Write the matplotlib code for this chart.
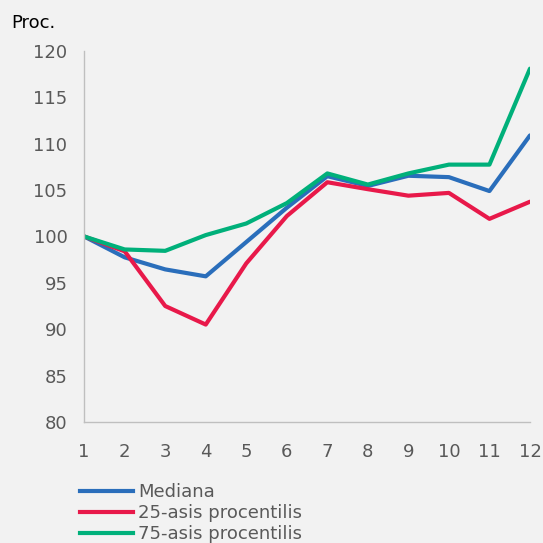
import matplotlib
matplotlib.use("Agg")
import matplotlib.pyplot as plt
from matplotlib.lines import Line2D

x = [1, 2, 3, 4, 5, 6, 7, 8, 9, 10, 11, 12]
mediana = [100.0, 97.75, 96.45, 95.7, 99.4, 103.1, 106.5, 105.45, 106.55, 106.4, 104.9, 110.9]
p25 = [100.0, 98.4, 92.5, 90.5, 97.1, 102.2, 105.85, 105.1, 104.4, 104.7, 101.9, 103.75]
p75 = [100.0, 98.6, 98.45, 100.15, 101.4, 103.6, 106.8, 105.6, 106.8, 107.75, 107.75, 118.1]
labels = ["Mediana", "25-asis procentilis", "75-asis procentilis"]
colors = ["#2a6ebb", "#e8194a", "#00b07a"]
yticks = [80, 85, 90, 95, 100, 105, 110, 115, 120]

bg = "#f2f2f2"
txt = "#595959"
plt.rcParams["font.family"] = ["DejaVu Sans"]
fs = 13

fig = plt.figure(figsize=(5.43, 5.43), dpi=100, facecolor=bg)
ax = fig.add_axes([0.155, 0.223, 0.821, 0.683], facecolor=bg)

for series, c in zip([mediana, p25, p75], colors):
    ax.plot(x, series, color=c, lw=3.0, solid_capstyle="round", solid_joinstyle="round")

ax.set_xlim(1, 12)
ax.set_ylim(80, 120)
ax.set_xticks(x)
ax.set_yticks(yticks)
ax.tick_params(length=0, labelsize=fs, colors=txt)
ax.tick_params(axis="y", pad=12)
ax.tick_params(axis="x", pad=15)
for s in ["top", "right"]:
    ax.spines[s].set_visible(False)
for s in ["left", "bottom"]:
    ax.spines[s].set_color("#bfbfbf")
    ax.spines[s].set_linewidth(1.0)

fig.text(0.02, 0.958, "Proc.", fontsize=fs, color="#000000", ha="left", va="center")

handles = [Line2D([0], [0], color=c, lw=3.0) for c in colors]
leg = fig.legend(handles, labels, loc="upper left", bbox_to_anchor=(0.147, 0.1105),
                 frameon=False, fontsize=fs, handlelength=2.95, handletextpad=0.28,
                 labelspacing=0.17, borderaxespad=0, borderpad=0)
for t in leg.get_texts():
    t.set_color(txt)

fig.savefig("out.png", dpi=100, facecolor=bg)
